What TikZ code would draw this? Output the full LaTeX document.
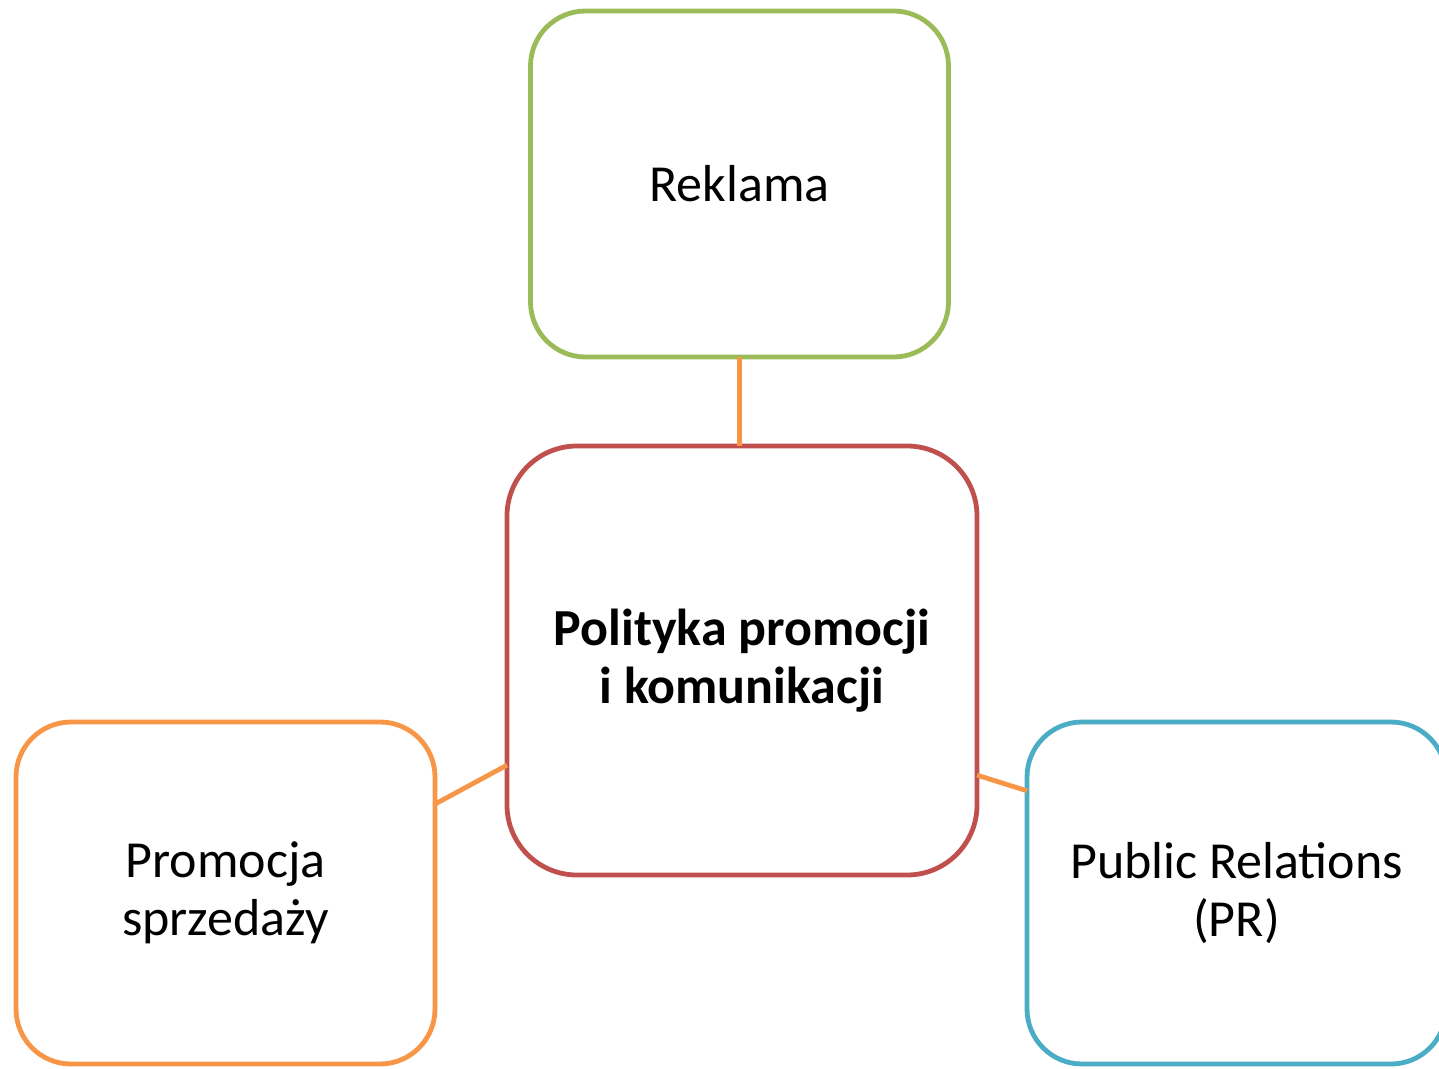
\documentclass[tikz,border=0pt]{standalone}
\usepackage{fontspec}
\setmainfont{Carlito}
\definecolor{boxgreen}{HTML}{9BBB59}
\definecolor{boxred}{HTML}{C0504D}
\definecolor{boxorange}{HTML}{F79646}
\definecolor{boxblue}{HTML}{4BACC6}
\begin{document}
\begin{tikzpicture}[x=1pt,y=-1pt,
  box/.style={draw, line width=4.8pt, rounded corners=55pt, fill=white,
    inner sep=0pt, outer sep=0pt, align=center,
    font=\fontsize{52}{58}\selectfont},
  link/.style={draw=boxorange, line width=4.8pt}]
  \useasboundingbox (0,0) rectangle (1439,1068);
  % outer topics
  \node[box, draw=boxgreen, minimum width=418pt, minimum height=346pt]
    (rek) at (739.5,184) {Reklama};
  \node[box, draw=boxorange, minimum width=419pt, minimum height=342pt]
    (promo) at (225.5,893) {Promocja\\sprzedaży};
  \node[box, draw=boxblue, minimum width=419pt, minimum height=342pt]
    (pr) at (1236.5,893) {Public Relations\\(PR)};
  % central topic
  \node[box, draw=boxred, rounded corners=70pt, minimum width=470pt, minimum height=429pt,
    font=\fontsize{52}{58}\selectfont\bfseries]
    (main) at (742,660.5) {Polityka promocji\\i komunikacji};
  % connectors
  \draw[link] (rek.south) -- (rek.south |- main.north);
  \draw[link] (promo.23.9) -- (main.204.4);
  \draw[link] (main.334.8) -- (pr.154.5);
\end{tikzpicture}
\end{document}
